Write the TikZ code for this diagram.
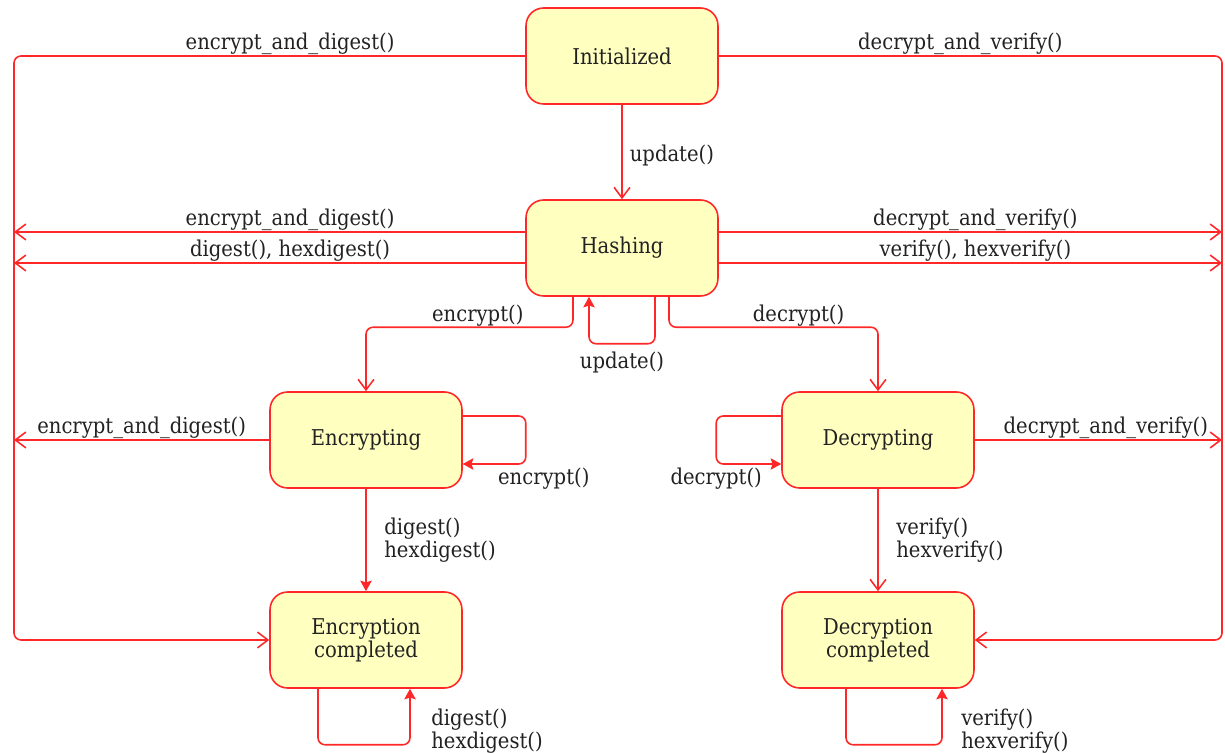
\documentclass[tikz,border=0pt]{standalone}
\usepackage{fontspec}
\setmainfont{DejaVu Serif Condensed}
\usetikzlibrary{arrows.meta,calc}
\definecolor{statefill}{RGB}{255,255,192}
\definecolor{linered}{RGB}{255,40,40}
\definecolor{txt}{RGB}{34,34,34}
\tikzset{
  state/.style={draw=linered, fill=statefill, rounded corners=10pt, line width=0.9pt,
    minimum width=3.84cm, minimum height=1.92cm, align=center, text=txt,
    font=\fontsize{12.4}{13}\selectfont},
  trans/.style={draw=linered, line width=0.9pt, rounded corners=4pt,
    -{Straight Barb[length=6pt,width=9pt]}},
  self/.style={draw=linered, line width=0.9pt, rounded corners=4pt,
    -{Stealth[length=6pt,width=6.5pt,inset=1pt]}},
  lbl/.style={text=txt, font=\fontsize{12.4}{13}\selectfont, inner sep=2pt, align=left},
  lblup/.style={lbl, above, yshift=-0.06cm},
}
\begin{document}
\begin{tikzpicture}[x=0.02cm,y=-0.02cm]
\useasboundingbox (0,0) rectangle (1225,753);
% states
\node[state] (init) at (622,56) {Initialized};
\node[state] (hash) at (622,248) {Hashing};
\node[state] (enc) at (366,440) {Encrypting};
\node[state] (dec) at (878,440) {Decrypting};
\node[state] (encdone) at (366,640) {Encryption\\completed};
\node[state] (decdone) at (878,640) {Decryption\\completed};
% side rails and free ends
\coordinate (lft) at (14,0);
\coordinate (rgt) at (1222,0);
\coordinate (eh1) at (14,232);
\coordinate (eh2) at (14,263);
\coordinate (ee) at (14,440);
\coordinate (dh1) at (1222,232);
\coordinate (dh2) at (1222,263);
\coordinate (de) at (1222,440);
% from Initialized
\draw[trans] (init) -- node[lbl,right,inner sep=4pt,yshift=-0.06cm]{update()} (hash);
\draw[trans] (init.west) -- node[lblup,pos=.46]{encrypt\_and\_digest()} (lft |- init.west)
  -- (lft |- encdone.west) -- (encdone.west);
\draw[trans] (init.east) -- node[lblup,pos=.48]{decrypt\_and\_verify()} (rgt |- init.east)
  -- (rgt |- decdone.east) -- (decdone.east);
% from Hashing
\draw[trans] (hash.west |- eh1) -- node[lblup,pos=.46]{encrypt\_and\_digest()} (eh1);
\draw[trans] (hash.west |- eh2) -- node[lblup,pos=.46]{digest(), hexdigest()} (eh2);
\draw[trans] (hash.east |- dh1) -- node[lblup,pos=.51]{decrypt\_and\_verify()} (dh1);
\draw[trans] (hash.east |- dh2) -- node[lblup,pos=.51]{verify(), hexverify()} (dh2);
\draw[self] ($(hash.south)+(33,0)$) -- ++(0,47) -| node[lbl,below,pos=.25,inner sep=4pt]{update()} ($(hash.south)+(-33,0)$);
\draw[trans] ($(hash.south)+(-49,0)$) |- node[lblup,pos=.73]{encrypt()} ($(enc.north)+(0,-64)$) -- (enc.north);
\draw[trans] ($(hash.south)+(47,0)$) |- node[lblup,pos=.81]{decrypt()} ($(dec.north)+(0,-64)$) -- (dec.north);
% Encrypting
\draw[trans] (enc.west) -- node[lblup]{encrypt\_and\_digest()} (ee);
\draw[self] ($(enc.east)+(0,-24)$) -- ++(63,0) -- ++(0,48) node[lbl,below,xshift=0.36cm]{encrypt()}
  -- ($(enc.east)+(0,24)$);
\draw[self] (enc) -- node[lbl,right,xshift=0.28cm]{digest()\\hexdigest()} (encdone);
% Decrypting
\draw[trans] (dec.east) -- node[lblup,pos=.53]{decrypt\_and\_verify()} (de);
\draw[self] ($(dec.west)+(0,-24)$) -- ++(-65,0) -- ++(0,48) node[lbl,below]{decrypt()}
  -- ($(dec.west)+(0,24)$);
\draw[trans] (dec) -- node[lbl,right,xshift=0.28cm]{verify()\\hexverify()} (decdone);
% completed states
\draw[self] ($(encdone.south)+(-48,0)$) -- ++(0,56) -| node[lbl,right,pos=.75,xshift=0.34cm,yshift=-0.28cm]{digest()\\hexdigest()} ($(encdone.south)+(44,0)$);
\draw[self] ($(decdone.south)+(-32,0)$) -- ++(0,56) -| node[lbl,right,pos=.75,xshift=0.3cm,yshift=-0.28cm]{verify()\\hexverify()} ($(decdone.south)+(64,0)$);
\end{tikzpicture}
\end{document}
